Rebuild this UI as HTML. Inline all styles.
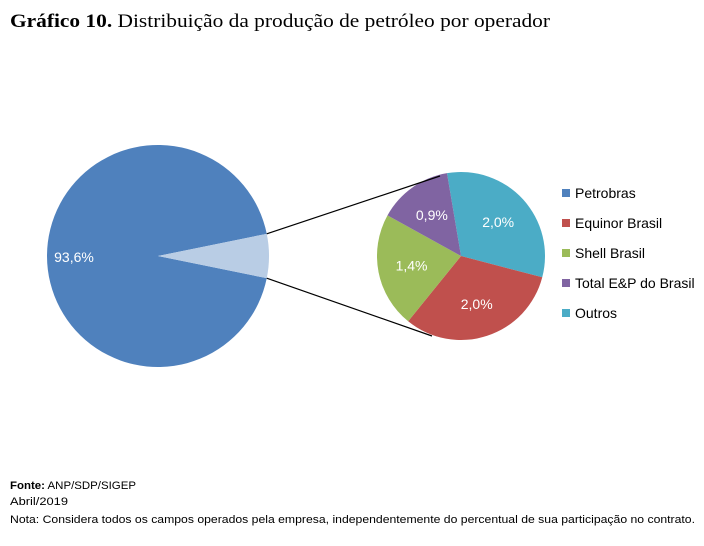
<!DOCTYPE html>
<html><head><meta charset="utf-8"><style>
body{margin:0;background:#fff;width:704px;height:541px;overflow:hidden;font-family:"Liberation Sans",sans-serif}
</style></head><body>
<svg width="704" height="541" xmlns="http://www.w3.org/2000/svg">
<text x="10" y="27" font-family="Liberation Serif" font-size="19" fill="#000" textLength="540" lengthAdjust="spacingAndGlyphs"><tspan font-weight="bold">Gráfico 10.</tspan> Distribuição da produção de petróleo por operador</text>
<g id="main"></g>
<g id="sub"></g>
<g id="legend"></g>
<text x="10" y="489" font-size="11" textLength="126" lengthAdjust="spacingAndGlyphs"><tspan font-weight="bold">Fonte:</tspan> ANP/SDP/SIGEP</text>
<text x="10" y="505" font-size="11" textLength="58" lengthAdjust="spacingAndGlyphs">Abril/2019</text>
<text x="10" y="523" font-size="11" textLength="685" lengthAdjust="spacingAndGlyphs">Nota: Considera todos os campos operados pela empresa, independentemente do percentual de sua participação no contrato.</text>
</svg>
<script>
const mainLabels=["Petrobras","Outros operadores"];
const mainValues=[93.6,6.4];
const subLabels=["Outros","Equinor Brasil","Shell Brasil","Total E&P do Brasil"];
const subValues=[2.0,2.0,1.4,0.9];
const subText=["2,0%","2,0%","1,4%","0,9%"];
const legendLabels=["Petrobras","Equinor Brasil","Shell Brasil","Total E&P do Brasil","Outros"];
const legendColors=["#4f81bd","#c0504d","#9bbb59","#8064a2","#4bacc6"];
const subColors=["#4bacc6","#c0504d","#9bbb59","#8064a2"];
const NS="http://www.w3.org/2000/svg";
function pt(cx,cy,r,a){return [cx+r*Math.sin(a),cy-r*Math.cos(a)];}
function arc(cx,cy,r,a0,a1){const p0=pt(cx,cy,r,a0),p1=pt(cx,cy,r,a1);const l=(a1-a0)>Math.PI?1:0;
return `M${cx},${cy}L${p0[0]},${p0[1]}A${r},${r} 0 ${l} 1 ${p1[0]},${p1[1]}Z`;}
function mk(t,at,par){const e=document.createElementNS(NS,t);for(const k in at)e.setAttribute(k,at[k]);par.appendChild(e);return e;}
const M=document.getElementById('main');
const mcx=158,mcy=256,mr=111;
const mTot=mainValues.reduce((a,b)=>a+b,0);
const smallAng=mainValues[1]/mTot*2*Math.PI;
let a=Math.PI/2+smallAng/2;
const mCols=["#4f81bd","#b9cde5"];
mainValues.forEach((v,i)=>{const s=v/mTot*2*Math.PI;
const p=mk('path',{d:arc(mcx,mcy,mr,a,a+s),fill:mCols[i]},M);


a+=s;});
const mt=mk('text',{x:74,y:262,fill:'#fff','font-size':14,'text-anchor':'middle'},M);
mt.textContent=mainValues[0].toFixed(1).replace('.',',')+'%';


const S=document.getElementById('sub');
const scx=461,scy=256,sr=84;
const sTot=subValues.reduce((x,y)=>x+y,0);
let b=-9.6*Math.PI/180;
subValues.forEach((v,i)=>{const s=v/sTot*2*Math.PI;
const p=mk('path',{d:arc(scx,scy,sr,b,b+s),fill:subColors[i]},S);


const c=pt(scx,scy,sr*0.6,b+s/2);
const t=mk('text',{x:c[0],y:c[1]+5,fill:'#fff','font-size':14,'text-anchor':'middle'},S);
t.textContent=subText[i];


b+=s;});
const pA=pt(mcx,mcy,mr,Math.PI/2-smallAng/2),pB=pt(mcx,mcy,mr,Math.PI/2+smallAng/2);
const l1=mk('line',{x1:pA[0],y1:pA[1],x2:440,y2:176,stroke:'#000','stroke-width':1.2},S);


const l2=mk('line',{x1:pB[0],y1:pB[1],x2:432,y2:336,stroke:'#000','stroke-width':1.2},S);


const L=document.getElementById('legend');
legendLabels.forEach((n,i)=>{const y=193+i*30;
const r=mk('rect',{x:562,y:y-4,width:8,height:8,fill:legendColors[i]},L);


const t=mk('text',{x:575,y:y+5,'font-size':14,fill:'#000'},L);
t.textContent=n;

});
</script>
</body></html>
